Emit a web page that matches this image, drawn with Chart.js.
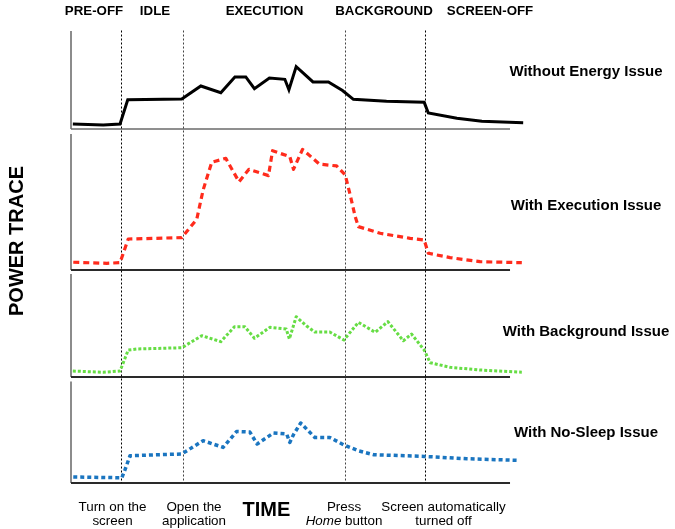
<!DOCTYPE html>
<html>
<head>
<meta charset="utf-8">
<script src="https://cdn.jsdelivr.net/npm/chart.js@4.4.1/dist/chart.umd.min.js"></script>
<style>
  html, body { margin: 0; padding: 0; background: #ffffff; }
  #wrap { width: 675px; height: 529px; position: relative; }
</style>
</head>
<body>
<div id="wrap"><canvas id="c"></canvas></div>
<script>
// ---------------- DATA ----------------
const phaseNames = ['PRE-OFF', 'IDLE', 'EXECUTION', 'BACKGROUND', 'SCREEN-OFF'];
const seriesNames = ['Without Energy Issue', 'With Execution Issue', 'With Background Issue', 'With No-Sleep Issue'];
const eventTimes = [11.1, 24.7, 60.4, 78.0];
const eventLabels = [['Turn on the', 'screen'], ['Open the', 'application'], ['Press', 'Home button'], ['Screen automatically', 'turned off']];
const axisTitleY = 'POWER TRACE';
const axisTitleX = 'TIME';

const timeWithout = [0.4, 7.1, 10.8, 12.5, 24.4, 28.6, 33.0, 36.1, 38.5, 40.4, 43.7, 47.1, 48.0, 49.6, 53.3, 56.7, 59.8, 62.2, 69.5, 77.8, 78.7, 85.0, 90.5, 99.6];
const powerWithout = [5.1, 4.1, 5.1, 29.9, 30.6, 43.9, 37.0, 53.1, 53.1, 41.1, 52.0, 50.7, 40.1, 63.6, 48.0, 48.0, 39.3, 30.3, 28.3, 27.2, 16.3, 10.9, 7.9, 6.4];

const timeExecution = [0.5, 7.9, 10.8, 12.6, 24.4, 27.7, 29.1, 31.0, 34.1, 37.0, 39.2, 43.5, 44.4, 48.2, 49.0, 51.0, 54.7, 58.5, 60.4, 61.5, 62.6, 63.3, 68.1, 74.7, 77.8, 78.7, 83.5, 90.1, 99.3];
const powerExecution = [5.7, 4.9, 5.4, 22.8, 23.8, 37.3, 58.8, 79.2, 82.1, 64.9, 74.0, 69.4, 87.7, 83.3, 74.0, 88.7, 77.9, 76.5, 69.9, 55.1, 39.2, 31.9, 27.0, 23.3, 22.1, 12.3, 9.1, 6.1, 5.4];

const timeBackground = [0.4, 7.1, 10.8, 11.9, 12.6, 14.5, 24.4, 28.8, 33.0, 36.0, 38.3, 40.4, 43.8, 47.4, 48.1, 49.6, 51.9, 53.7, 57.0, 60.1, 63.3, 67.0, 69.8, 73.2, 75.0, 77.8, 79.1, 83.5, 90.1, 99.3];
const powerBackground = [5.8, 4.6, 5.8, 18.2, 26.2, 27.2, 28.4, 40.1, 34.3, 48.8, 48.8, 37.6, 48.2, 46.6, 36.9, 58.5, 49.5, 43.7, 43.7, 35.9, 53.1, 43.4, 53.7, 35.2, 41.7, 26.2, 13.9, 9.4, 6.8, 4.6];

const timeNoSleep = [0.5, 11.2, 11.9, 13.0, 24.4, 29.1, 33.5, 36.5, 39.4, 41.0, 44.6, 47.5, 48.2, 49.0, 50.6, 53.7, 57.0, 60.0, 63.3, 66.6, 77.8, 87.2, 98.5];
const powerNoSleep = [5.9, 5.2, 13.1, 26.9, 28.6, 41.7, 35.1, 50.8, 50.2, 38.4, 49.3, 48.3, 40.0, 47.6, 59.1, 44.9, 44.9, 37.7, 31.8, 27.9, 26.2, 23.9, 22.3];

// ---------------- LAYOUT (canvas px) ----------------
const W = 675, H = 529;
const plotLeft = 71, plotRight = 525;
const bands = [28.5, 131.5, 272, 379, 485.5];     // stacked panel regions
const axisTopPx = [31, 134, 274, 381.5];
const axisBotPx = [129, 270, 377, 483];
const axisEndT = 96.7;
const phaseCenters = [94, 155, 264.5, 384, 490];
const seriesLabelX = 586;
const seriesLabelY = [72.3, 205.7, 331.7, 433];
const eventCenters = [112.5, 194, 344, 443.5];

const colors = ['#000000', '#ff2b1c', '#66dd44', '#1a75c0'];
const dashes = [[], [6, 4], [3, 2], [4, 3]];
const widths = [3, 3.2, 3, 3.5];

const times = [timeWithout, timeExecution, timeBackground, timeNoSleep];
const powers = [powerWithout, powerExecution, powerBackground, powerNoSleep];

const scales = {
  x: { type: 'linear', min: 0, max: 100, display: false }
};
for (let i = 0; i < 4; i++) {
  const unit = (axisBotPx[i] - axisTopPx[i]) / 100;
  scales['y' + i] = {
    type: 'linear',
    display: false,
    position: 'left',
    stack: 'panels',
    stackWeight: bands[i + 1] - bands[i],
    weight: 4 - i,
    min: -(bands[i + 1] - axisBotPx[i]) / unit,
    max: 100 + (axisTopPx[i] - bands[i]) / unit
  };
}

const datasets = powers.map((p, i) => ({
  label: seriesNames[i],
  data: times[i].map((t, k) => ({ x: t, y: p[k] })),
  yAxisID: 'y' + i,
  borderColor: colors[i],
  borderWidth: widths[i],
  borderDash: dashes[i],
  borderCapStyle: 'butt',
  borderJoinStyle: i === 0 ? 'miter' : 'round',
  pointRadius: 0,
  tension: 0,
  fill: false
}));

const FONT = '"Liberation Sans", Arial, Helvetica, sans-serif';

const deco = {
  id: 'deco',
  beforeDatasetsDraw(chart) {
    const ctx = chart.ctx;
    const x = chart.scales.x;
    const left = chart.chartArea.left;
    const right = x.getPixelForValue(axisEndT);
    ctx.save();
    for (let i = 0; i < 4; i++) {
      const ys = chart.scales['y' + i];
      const y0 = ys.getPixelForValue(0);
      const y1 = ys.getPixelForValue(100);
      // left axis
      ctx.strokeStyle = '#8c8c8c';
      ctx.lineWidth = 2;
      ctx.setLineDash([]);
      ctx.beginPath();
      ctx.moveTo(left, y1);
      ctx.lineTo(left, y0);
      ctx.stroke();
      // bottom axis
      ctx.strokeStyle = i === 0 ? '#6a6a6a' : '#2a2a2a';
      ctx.lineWidth = i === 0 ? 1.5 : 2;
      ctx.beginPath();
      ctx.moveTo(left, y0);
      ctx.lineTo(right, y0);
      ctx.stroke();
    }
    // vertical event lines
    const yTop = chart.scales.y0.getPixelForValue(100) - 0.5;
    const yBot = chart.scales.y3.getPixelForValue(0);
    ctx.lineWidth = 1;
    ctx.setLineDash([2, 2]);
    eventTimes.forEach((t, k) => {
      const px = Math.round(x.getPixelForValue(t)) + 0.5;
      ctx.strokeStyle = (k === 0 || k === 3) ? '#000000' : '#444444';
      ctx.beginPath();
      ctx.moveTo(px, yTop);
      ctx.lineTo(px, yBot);
      ctx.stroke();
    });
    ctx.restore();
  },
  afterDraw(chart) {
    const ctx = chart.ctx;
    ctx.save();
    ctx.fillStyle = '#000000';
    ctx.textBaseline = 'middle';
    ctx.textAlign = 'center';
    // phase labels
    ctx.font = 'bold 13.3px ' + FONT;
    phaseNames.forEach((n, i) => ctx.fillText(n, phaseCenters[i], 11.7));
    // series labels
    ctx.font = 'bold 15px ' + FONT;
    seriesNames.forEach((n, i) => ctx.fillText(n, seriesLabelX, seriesLabelY[i]));
    // axis titles
    ctx.font = 'bold 20px ' + FONT;
    ctx.fillText(axisTitleX, 266.4, 510);
    ctx.save();
    ctx.translate(17.5, 241);
    ctx.rotate(-Math.PI / 2);
    ctx.fillText(axisTitleY, 0, 0);
    ctx.restore();
    // event labels
    const reg = '13.4px ' + FONT;
    const ital = 'italic 13.4px ' + FONT;
    eventLabels.forEach((lines, i) => {
      lines.forEach((ln, j) => {
        const y = j === 0 ? 507.5 : 521.7;
        if (ln.startsWith('Home ')) {
          const a = 'Home', b = ln.slice(4);
          ctx.font = ital; const wa = ctx.measureText(a).width;
          ctx.font = reg; const wb = ctx.measureText(b).width;
          const start = eventCenters[i] - (wa + wb) / 2;
          ctx.textAlign = 'left';
          ctx.font = ital; ctx.fillText(a, start, y);
          ctx.font = reg; ctx.fillText(b, start + wa, y);
          ctx.textAlign = 'center';
        } else {
          ctx.font = reg;
          ctx.fillText(ln, eventCenters[i], y);
        }
      });
    });
    ctx.restore();
  }
};

new Chart(document.getElementById('c'), {
  type: 'line',
  data: { datasets },
  options: {
    responsive: true,
    maintainAspectRatio: false,
    animation: false,
    devicePixelRatio: 1,
    layout: { padding: { left: plotLeft, right: W - plotRight, top: bands[0], bottom: H - bands[4] } },
    plugins: { legend: { display: false }, tooltip: { enabled: false }, title: { display: false } },
    scales
  },
  plugins: [deco]
});
</script>
</body>
</html>
